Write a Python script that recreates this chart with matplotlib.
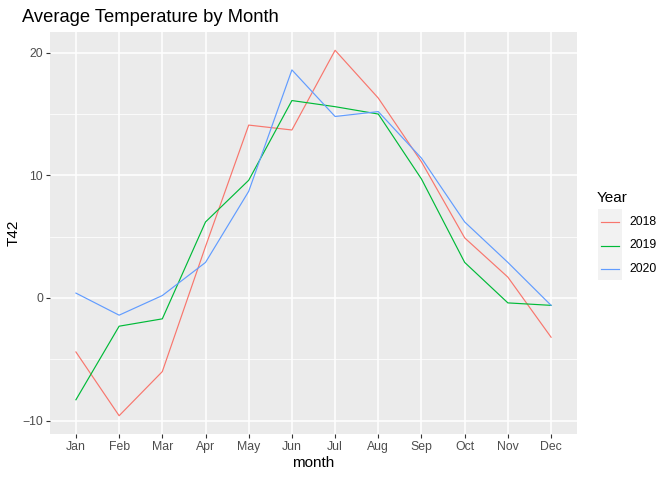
import numpy as np
import matplotlib.pyplot as plt
from matplotlib.lines import Line2D
from matplotlib.patches import Rectangle

plt.rcParams['font.family'] = ['Liberation Sans', 'DejaVu Sans']

months = ['Jan', 'Feb', 'Mar', 'Apr', 'May', 'Jun',
          'Jul', 'Aug', 'Sep', 'Oct', 'Nov', 'Dec']
years = ['2018', '2019', '2020']
t2018 = [-4.4, -9.6, -6.0, 4.2, 14.1, 13.7, 20.2, 16.3, 11.1, 4.9, 1.7, -3.2]
t2019 = [-8.3, -2.3, -1.7, 6.2, 9.6, 16.1, 15.6, 15.0, 9.7, 2.9, -0.4, -0.6]
t2020 = [0.4, -1.4, 0.2, 2.9, 8.7, 18.6, 14.8, 15.2, 11.4, 6.2, 2.9, -0.6]
colors = ['#F8766D', '#00BA38', '#619CFF']

fig = plt.figure(figsize=(6.72, 4.8), dpi=100)
# panel box (pixels)
L, T, R, B = 50, 32, 577, 434
ax = fig.add_axes([L / 672, 1 - B / 480, (R - L) / 672, (B - T) / 480])
ax.set_facecolor('#EBEBEB')

x = np.arange(1, 13)
for vals, c in zip([t2018, t2019, t2020], colors):
    ax.plot(x, vals, color=c, lw=0.85, zorder=3)

allv = t2018 + t2019 + t2020
lo, hi = min(allv), max(allv)
pad = (hi - lo) * 0.05
ax.set_ylim(lo - pad, hi + pad)
ax.set_xlim(0.4, 12.6)

ax.set_yticks([-10, 0, 10, 20])
ax.set_yticks([-5, 5, 15], minor=True)
ax.set_xticks(x)
ax.set_xticklabels(months)
ax.grid(True, which='major', color='white', lw=1.1, zorder=1)
ax.grid(True, which='minor', axis='y', color='white', lw=0.55, zorder=1)
ax.set_axisbelow(True)
for s in ax.spines.values():
    s.set_visible(False)
ax.tick_params(which='major', length=3, width=0.8, color='#333333',
               labelsize=8.8, labelcolor='#4D4D4D', pad=2)
ax.tick_params(which='minor', length=0)

ax.set_xlabel('month', fontsize=11, labelpad=2)
ax.set_ylabel('T42', fontsize=11, labelpad=1)
fig.text(22 / 672, 1 - 17 / 480, 'Average Temperature by Month',
         fontsize=13.2, va='center', ha='left')

# legend
fig.patches.append(Rectangle((598 / 672, 1 - 280 / 480), 24 / 672, 71 / 480,
                             transform=fig.transFigure, facecolor='#F2F2F2',
                             edgecolor='none'))
fig.text(597 / 672, 1 - 198 / 480, 'Year', fontsize=11, va='center')
for i, (yr, c) in enumerate(zip(years, colors)):
    yy = 1 - (222 + i * 23.5) / 480
    fig.add_artist(Line2D([601 / 672, 619 / 672], [yy, yy], color=c, lw=0.85,
                          transform=fig.transFigure))
    fig.text(629 / 672, yy, yr, fontsize=8.8, va='center')

fig.savefig('out.png', dpi=100)
